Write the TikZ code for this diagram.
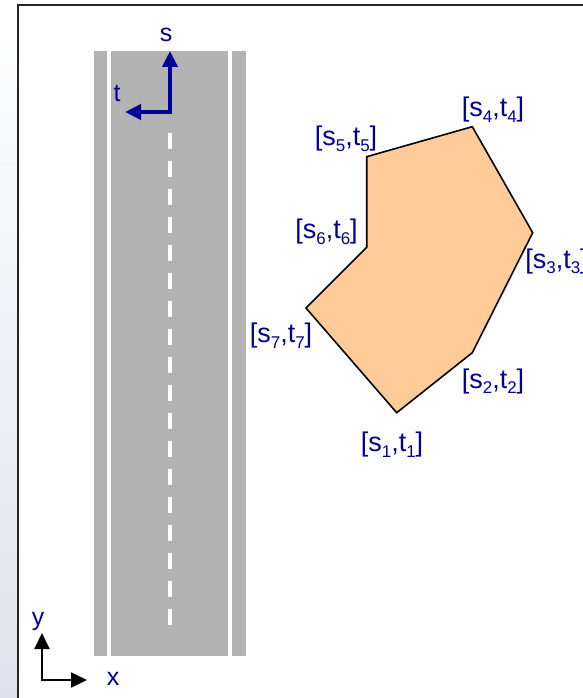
\documentclass[tikz,border=0pt]{standalone}
\usepackage{fontspec}
\setmainfont{Liberation Sans}
\usepackage{tikz}
\usepackage{xcolor}
\usetikzlibrary{arrows.meta, positioning}
\definecolor{RoadGray}{HTML}{B3B3B3}
\definecolor{LabelBlue}{HTML}{000099}
\definecolor{Peach}{HTML}{FFCC99}
\definecolor{SlideEdge}{HTML}{DDE3EE}
\newcommand{\idx}[1]{\raisebox{-0.2em}{\fontsize{17}{17}\selectfont #1}}
\newcommand{\stpair}[1]{{\fontsize{27}{30}\selectfont[s\idx{#1},t\idx{#1}]}}

\begin{document}
\begin{tikzpicture}[x=1pt, y=-1pt, font=\fontsize{25}{30}\selectfont]
        \useasboundingbox (0,0) rectangle (583,698);
        \clip (0,0) rectangle (583,698);

        % Slide background and frame
        \shade[top color=white, bottom color=SlideEdge] (0,0) rectangle (583,698);
        \fill[white] (18,5) rectangle (620,720);
        \draw[line width=2pt, black!85] (18,5) rectangle (620,720);

        % Road
        \fill[RoadGray] (94,51) rectangle (246,656);
        \draw[white, line width=3.5pt] (109,51) -- (109,656);
        \draw[white, line width=3.5pt] (230,51) -- (230,656);
        \draw[white, line width=4.5pt, dash pattern=on 15.5pt off 12.5pt] (170,133) -- (170,625);

        % Road frame (s,t)
        \coordinate (o) at (170,112);
        \coordinate (stip) at (170,51);
        \coordinate (ttip) at (125,112);
        \draw[LabelBlue, line width=4pt, {Triangle[length=16pt, width=15pt]}-{Triangle[length=16pt, width=15pt]}] (ttip) -- (o) -- (stip);
        \node[text=LabelBlue, inner sep=0pt] (slabel) at (166,35) {s};
        \node[text=LabelBlue, inner sep=0pt] (tlabel) at (117,94) {t};

        % World frame (x,y)
        \coordinate (w) at (42,680);
        \coordinate (xtip) at (87,680);
        \coordinate (ytip) at (42,633);
        \draw[black, line width=2pt, {Triangle[length=16pt, width=15pt]}-{Triangle[length=16pt, width=15pt]}] (ytip) -- (w) -- (xtip);
        \node[text=LabelBlue, inner sep=0pt] (xlabel) at (113,679) {x};
        \node[text=LabelBlue, inner sep=0pt] (ylabel) at (38,621) {y};

        % Obstacle polygon
        \coordinate (p1) at (396.7,412.7);
        \coordinate (p2) at (472.3,352.7);
        \coordinate (p3) at (532.7,232.7);
        \coordinate (p4) at (472.3,126.7);
        \coordinate (p5) at (366.7,156.7);
        \coordinate (p6) at (366.7,247.3);
        \coordinate (p7) at (306,308);
        \draw[fill=Peach, line width=1.6pt, line join=miter] (p1) -- (p2) -- (p3) -- (p4) -- (p5) -- (p6) -- (p7) -- cycle;

        % Vertex labels
        \node[text=LabelBlue, inner sep=0pt] (l1) at (392,445) {\stpair{1}};
        \node[text=LabelBlue, inner sep=0pt] (l2) at (493,381.5) {\stpair{2}};
        \node[text=LabelBlue, inner sep=0pt] (l3) at (556.5,261.5) {\stpair{3}};
        \node[text=LabelBlue, inner sep=0pt] (l4) at (493,110) {\stpair{4}};
        \node[text=LabelBlue, inner sep=0pt] (l5) at (346,139) {\stpair{5}};
        \node[text=LabelBlue, inner sep=0pt] (l6) at (326.5,232) {\stpair{6}};
        \node[text=LabelBlue, inner sep=0pt] (l7) at (281,336) {\stpair{7}};
    \end{tikzpicture}
\end{document}
